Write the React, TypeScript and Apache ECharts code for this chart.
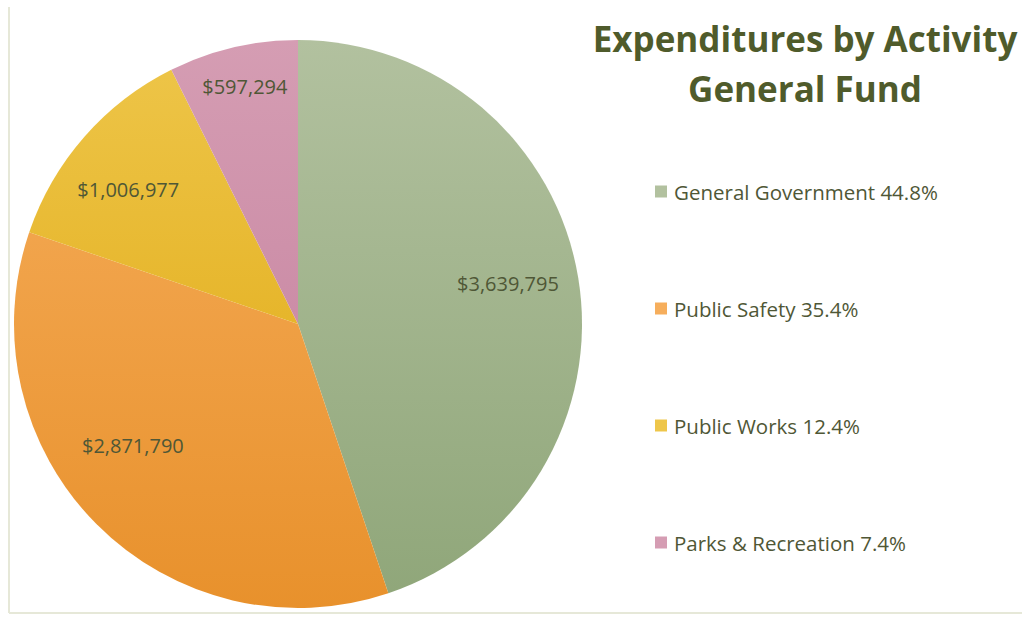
import React, { useEffect, useRef } from "react";
import * as echarts from "echarts";

const categories = ["General Government", "Public Safety", "Public Works", "Parks & Recreation"];
const amounts = [3639795, 2871790, 1006977, 597294];
const topColors = ["#b2c19f", "#f6ae5c", "#eec64a", "#d59db3"];
const bottomColors = ["#8fa679", "#e8912c", "#dea50c", "#c27c9a"];
const titleLines = ["Expenditures by Activity", "General Fund"];

const total = amounts.reduce((a, b) => a + b, 0);
const fmtMoney = (v: number) => "$" + v.toLocaleString("en-US");

export default function App() {
  const ref = useRef<HTMLDivElement>(null);
  useEffect(() => {
    document.body.style.margin = "0";
    const chart = echarts.init(ref.current!, undefined, { renderer: "svg" });
    const cx = 298, cy = 324, r = 284;
    const labelOffsets = [[-6, -5], [-10, -33], [-5, 10], [-3, -24]];
    const data = categories.map((name, i) => ({
      name,
      value: amounts[i],
      itemStyle: {
        color: new echarts.graphic.LinearGradient(0, cy - r, 0, cy + r, [
          { offset: 0, color: topColors[i] },
          { offset: 1, color: bottomColors[i] },
        ], true),
      },
    }));
    const textColor = "#4f5736";
    const font = "'Open Sans', sans-serif";
    chart.setOption({
      animation: false,
      backgroundColor: "#ffffff",
      title: {
        text: titleLines.join("\n"),
        left: 800,
        top: 8,
        textAlign: "center",
        textStyle: {
          fontFamily: font,
          fontWeight: "bold",
          fontSize: 35,
          lineHeight: 50,
          color: "#4f5b2b",
        },
      },
      legend: {
        orient: "vertical",
        left: 650,
        top: 176,
        itemWidth: 12,
        itemHeight: 12,
        itemGap: 96,
        icon: "rect",
        data: categories,
        formatter: (name: string) => {
          const i = categories.indexOf(name);
          return name + " " + ((amounts[i] / total) * 100).toFixed(1) + "%";
        },
        textStyle: { fontFamily: font, fontSize: 20.5, color: textColor, padding: [0, 0, 0, 2] },
      },
      series: [
        {
          type: "pie",
          center: [cx, cy],
          radius: [0, r],
          startAngle: 90,
          clockwise: true,
          data,
          label: { show: false },
          labelLine: { show: false },
          silent: true,
        },
        {
          type: "pie",
          center: [cx, cy],
          radius: [r * 0.52, r],
          startAngle: 90,
          clockwise: true,
          data: categories.map((name, i) => ({ name, value: amounts[i], label: { offset: labelOffsets[i] } })),
          itemStyle: { color: "rgba(0,0,0,0)" },
          label: {
            show: true,
            position: "inside",
            formatter: (p: any) => fmtMoney(p.value),
            fontFamily: font,
            fontSize: 20,
            color: textColor,
          },
          labelLine: { show: false },
          silent: true,
          legendHoverLink: false,
        },
      ],
      graphic: [
        { type: "line", shape: { x1: 9, y1: 7, x2: 9, y2: 613 }, style: { stroke: "#e6e8d8", lineWidth: 2 } },
        { type: "line", shape: { x1: 9, y1: 613, x2: 1022, y2: 613 }, style: { stroke: "#e6e8d8", lineWidth: 2 } },
      ],
    });
    return () => chart.dispose();
  }, []);
  return <div ref={ref} style={{ width: 1022, height: 618 }} />;
}
